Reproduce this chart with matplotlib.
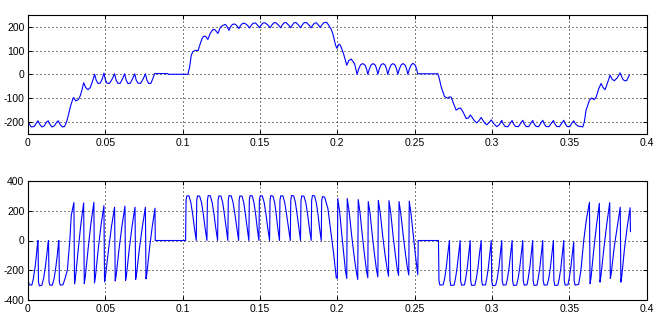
import numpy as np
import matplotlib
matplotlib.use('Agg')
from matplotlib import pyplot as plt

# ---- data (time in s, value) ----
# upper trace: current-like signal, one list per section
cur_start = [(0.0000, -200), (0.0010, -212), (0.0022, -222), (0.0040, -220), (0.0055, -205), (0.0065, -196),
             (0.0075, -210), (0.0090, -222), (0.0105, -218), (0.0120, -202), (0.0131, -196),
             (0.0141, -210), (0.0155, -222), (0.0170, -218), (0.0186, -202), (0.0196, -196),
             (0.0206, -210), (0.0222, -222), (0.0237, -220), (0.0250, -200), (0.0262, -170), (0.0275, -135),
             (0.0287, -110), (0.0295, -98), (0.0308, -112), (0.0326, -107), (0.0339, -89), (0.0351, -61),
             (0.0360, -36), (0.0373, -56), (0.0388, -65), (0.0403, -56), (0.0416, -32), (0.0431, 0)]
cur_zero1 = [(0.0441, -25), (0.0452, -38), (0.0466, -38), (0.0480, -20), (0.0491, 5),
             (0.0501, -25), (0.0512, -38), (0.0528, -38), (0.0546, -18), (0.0560, 2),
             (0.0570, -25), (0.0581, -38), (0.0596, -38), (0.0612, -18), (0.0625, 2),
             (0.0635, -25), (0.0646, -39), (0.0661, -38), (0.0677, -18), (0.0690, 2),
             (0.0700, -25), (0.0712, -38), (0.0728, -38), (0.0746, -18), (0.0759, 2),
             (0.0769, -25), (0.0780, -39), (0.0795, -38), (0.0809, -15), (0.0819, 3),
             (0.0904, 3), (0.0906, 0), (0.1034, 0)]
cur_up = [(0.1045, 31), (0.1056, 81), (0.1066, 95), (0.1082, 101), (0.1100, 100), (0.1112, 125),
          (0.1125, 150), (0.1135, 160), (0.1148, 160), (0.1163, 147), (0.1178, 172), (0.1196, 189),
          (0.1210, 187), (0.1228, 172), (0.1243, 197), (0.1260, 206), (0.1276, 210), (0.1288, 200),
          (0.1299, 185)]
cur_high = [(0.1309, 200), (0.1322, 210), (0.1336, 212), (0.1350, 205), (0.1364, 193),
            (0.1374, 205), (0.1387, 214), (0.1401, 215), (0.1418, 207), (0.1433, 195),
            (0.1443, 206), (0.1456, 215), (0.1471, 216), (0.1484, 207), (0.1497, 196),
            (0.1507, 207), (0.1519, 216), (0.1532, 217), (0.1550, 208), (0.1566, 196),
            (0.1576, 207), (0.1588, 216), (0.1602, 218), (0.1618, 208), (0.1633, 196),
            (0.1643, 207), (0.1656, 217), (0.1668, 218), (0.1684, 208), (0.1698, 196),
            (0.1708, 207), (0.1720, 217), (0.1733, 218), (0.1748, 208), (0.1762, 196),
            (0.1772, 207), (0.1785, 217), (0.1800, 218), (0.1816, 208), (0.1831, 196),
            (0.1841, 207), (0.1852, 215), (0.1864, 217), (0.1877, 208), (0.1889, 197),
            (0.1900, 208), (0.1912, 217), (0.1925, 219), (0.1935, 216)]
cur_down = [(0.1945, 205), (0.1960, 190), (0.1971, 171), (0.1988, 124), (0.1997, 109), (0.2010, 127),
            (0.2020, 122), (0.2040, 87), (0.2061, 38), (0.2074, 58), (0.2090, 64), (0.2111, 45),
            (0.2128, 0)]
cur_zero2 = [(0.2138, 22), (0.2150, 40), (0.2165, 45), (0.2180, 38), (0.2190, 20), (0.2197, 0),
             (0.2207, 22), (0.2219, 40), (0.2232, 45), (0.2246, 38), (0.2255, 20), (0.2262, 0),
             (0.2271, 22), (0.2283, 40), (0.2296, 45), (0.2310, 38), (0.2319, 20), (0.2326, 0),
             (0.2336, 22), (0.2348, 40), (0.2360, 45), (0.2374, 38), (0.2384, 20), (0.2391, 0),
             (0.2401, 22), (0.2413, 40), (0.2425, 45), (0.2439, 38), (0.2449, 20), (0.2456, 0),
             (0.2466, 22), (0.2478, 40), (0.2490, 46), (0.2504, 38), (0.2514, 18), (0.2520, 2),
             (0.2650, 2)]
cur_neg = [(0.2660, -20), (0.2671, -52), (0.2693, -94), (0.2714, -101), (0.2725, -95), (0.2736, -97),
           (0.2751, -123), (0.2768, -151), (0.2780, -146), (0.2794, -142), (0.2805, -150), (0.2816, -163),
           (0.2833, -187), (0.2848, -184), (0.2859, -172), (0.2870, -180), (0.2885, -195), (0.2901, -205),
           (0.2915, -196), (0.2930, -182), (0.2942, -195), (0.2955, -207), (0.2966, -213), (0.2982, -203),
           (0.2995, -192), (0.3010, -207), (0.3031, -221), (0.3048, -212), (0.3063, -194),
           (0.3073, -210), (0.3085, -220), (0.3103, -221), (0.3118, -206), (0.3130, -195),
           (0.3140, -210), (0.3152, -220), (0.3170, -221), (0.3186, -206), (0.3199, -194),
           (0.3209, -210), (0.3221, -220), (0.3237, -221), (0.3251, -206), (0.3263, -195),
           (0.3273, -210), (0.3285, -220), (0.3301, -221), (0.3316, -206), (0.3328, -194),
           (0.3338, -210), (0.3350, -220), (0.3368, -221), (0.3384, -206), (0.3397, -195),
           (0.3407, -210), (0.3419, -220), (0.3436, -221), (0.3451, -206), (0.3464, -194),
           (0.3474, -210), (0.3486, -220), (0.3502, -221), (0.3516, -206), (0.3528, -196)]
cur_end = [(0.3540, -210), (0.3555, -218), (0.3570, -220), (0.3587, -222), (0.3597, -200), (0.3608, -152),
           (0.3630, -109), (0.3645, -100), (0.3660, -107), (0.3673, -97), (0.3690, -61), (0.3705, -39),
           (0.3718, -56), (0.3731, -65), (0.3748, -34), (0.3763, -4), (0.3778, -22), (0.3791, -27),
           (0.3810, -15), (0.3828, 6), (0.3845, -20), (0.3856, -27), (0.3870, -27), (0.3888, -4)]

# lower trace: voltage-like signal
volt_a = [(0.0000, 0), (0.0003, -275), (0.0008, -298), (0.0025, -300), (0.0035, -255), (0.0046, -180), (0.0055, -95), (0.0063, -5),
          (0.0065, 0), (0.0068, -280), (0.0074, -305), (0.0090, -300), (0.0101, -255), (0.0112, -180), (0.0122, -95), (0.0131, -5),
          (0.0133, 0), (0.0136, -280), (0.0142, -300), (0.0158, -300), (0.0169, -255), (0.0180, -180), (0.0190, -95), (0.0198, -5),
          (0.0200, 0), (0.0203, -280), (0.0209, -300), (0.0226, -298), (0.0240, -255), (0.0255, -196), (0.0270, -7), (0.0280, 170)]
volt_b = [(0.0297, 255), (0.0301, -292), (0.0307, -250), (0.0325, -60), (0.0342, 110),
          (0.0360, 253), (0.0364, -290), (0.0370, -248), (0.0389, -55), (0.0407, 115),
          (0.0426, 257), (0.0430, -285), (0.0436, -245), (0.0454, -60), (0.0472, 100),
          (0.0491, 235), (0.0495, -278), (0.0501, -240), (0.0521, -60), (0.0540, 95),
          (0.0560, 224), (0.0564, -272), (0.0570, -235), (0.0589, -55), (0.0608, 100),
          (0.0627, 231), (0.0631, -268), (0.0637, -230), (0.0655, -55), (0.0673, 95),
          (0.0692, 224), (0.0696, -262), (0.0702, -225), (0.0721, -50), (0.0740, 95),
          (0.0759, 224), (0.0763, -258), (0.0769, -220), (0.0786, -50), (0.0803, 90),
          (0.0821, 217), (0.0823, 0), (0.1019, 0)]
volt_d = [(0.1022, 270), (0.1027, 300), (0.1041, 300), (0.1053, 255), (0.1065, 175), (0.1076, 85),
          (0.1088, 0), (0.1091, 270), (0.1096, 300), (0.1110, 298), (0.1122, 255), (0.1134, 175), (0.1145, 85),
          (0.1157, 0), (0.1160, 270), (0.1165, 302), (0.1179, 300), (0.1191, 255), (0.1203, 175), (0.1214, 85),
          (0.1226, 0), (0.1229, 270), (0.1234, 300), (0.1248, 298), (0.1259, 255), (0.1270, 175), (0.1281, 85),
          (0.1292, 0), (0.1295, 270), (0.1300, 302), (0.1314, 300), (0.1326, 255), (0.1338, 175), (0.1350, 85),
          (0.1362, 0), (0.1365, 270), (0.1370, 300), (0.1384, 298), (0.1395, 255), (0.1406, 175), (0.1417, 85),
          (0.1428, 0), (0.1431, 270), (0.1436, 302), (0.1450, 300), (0.1461, 255), (0.1472, 175), (0.1482, 85),
          (0.1493, 0), (0.1496, 270), (0.1501, 300), (0.1515, 300), (0.1527, 255), (0.1539, 175), (0.1550, 85),
          (0.1562, 0), (0.1565, 270), (0.1570, 302), (0.1584, 298), (0.1595, 255), (0.1605, 175), (0.1615, 85),
          (0.1626, 0), (0.1629, 270), (0.1634, 300), (0.1648, 300), (0.1660, 255), (0.1672, 175), (0.1684, 85),
          (0.1696, 0), (0.1699, 270), (0.1704, 302), (0.1718, 300), (0.1729, 255), (0.1740, 175), (0.1751, 85),
          (0.1762, 0), (0.1765, 270), (0.1770, 300), (0.1784, 298), (0.1796, 255), (0.1808, 175), (0.1819, 85),
          (0.1831, 0), (0.1834, 270), (0.1839, 302), (0.1853, 300), (0.1864, 255), (0.1875, 175), (0.1885, 85),
          (0.1896, 0), (0.1899, 270), (0.1904, 295), (0.1918, 292), (0.1939, 215), (0.1961, 37), (0.1977, -96),
          (0.1993, -251)]
volt_e = [(0.2000, -255), (0.2003, 282), (0.2015, 193), (0.2029, 37), (0.2042, -96), (0.2053, -207),
          (0.2061, -255), (0.2064, 282), (0.2077, 190), (0.2093, 30), (0.2108, -100), (0.2122, -205),
          (0.2132, -262), (0.2135, 275), (0.2147, 185), (0.2162, 30), (0.2176, -100), (0.2188, -200),
          (0.2197, -251), (0.2200, 262), (0.2212, 180), (0.2227, 25), (0.2241, -100), (0.2253, -195),
          (0.2262, -245), (0.2265, 270), (0.2278, 180), (0.2294, 25), (0.2309, -100), (0.2322, -190),
          (0.2331, -240), (0.2334, 268), (0.2346, 180), (0.2361, 25), (0.2375, -95), (0.2387, -190),
          (0.2396, -235), (0.2399, 262), (0.2411, 175), (0.2427, 25), (0.2441, -95), (0.2453, -185),
          (0.2462, -232), (0.2465, 265), (0.2477, 175), (0.2492, 25), (0.2505, -100), (0.2515, -190),
          (0.2520, -230), (0.2523, 0), (0.2654, 0)]
volt_g = [(0.2657, -270), (0.2663, -300), (0.2684, -298), (0.2694, -255), (0.2704, -185), (0.2714, -90),
          (0.2725, 0), (0.2728, -270), (0.2734, -302), (0.2755, -300), (0.2764, -255), (0.2774, -185), (0.2784, -90),
          (0.2794, 0), (0.2797, -270), (0.2803, -300), (0.2822, -298), (0.2830, -255), (0.2840, -185), (0.2850, -90),
          (0.2859, 0), (0.2862, -270), (0.2868, -302), (0.2889, -300), (0.2899, -255), (0.2909, -185), (0.2919, -90),
          (0.2930, 0), (0.2933, -270), (0.2939, -300), (0.2958, -298), (0.2966, -255), (0.2976, -185), (0.2986, -90),
          (0.2995, 0), (0.2998, -270), (0.3004, -305), (0.3024, -300), (0.3034, -255), (0.3044, -185), (0.3054, -90),
          (0.3063, 0), (0.3066, -270), (0.3072, -300), (0.3091, -298), (0.3100, -255), (0.3110, -185), (0.3120, -90),
          (0.3130, 0), (0.3133, -270), (0.3139, -302), (0.3159, -300), (0.3169, -255), (0.3179, -185), (0.3189, -90),
          (0.3199, 0), (0.3202, -270), (0.3208, -300), (0.3226, -298), (0.3234, -255), (0.3244, -185), (0.3254, -90),
          (0.3263, 0), (0.3266, -270), (0.3272, -302), (0.3291, -300), (0.3299, -255), (0.3309, -185), (0.3319, -90),
          (0.3328, 0), (0.3331, -270), (0.3337, -300), (0.3357, -298), (0.3367, -255), (0.3377, -185), (0.3387, -90),
          (0.3397, 0), (0.3400, -270), (0.3406, -302), (0.3426, -300), (0.3435, -255), (0.3445, -185), (0.3455, -90),
          (0.3464, 0), (0.3467, -270), (0.3473, -300), (0.3491, -298), (0.3499, -255), (0.3509, -185), (0.3519, -90),
          (0.3528, -10), (0.3531, -270), (0.3537, -300), (0.3560, -295), (0.3575, -200), (0.3593, 0), (0.3610, 140)]
volt_h = [(0.3630, 257), (0.3634, -290), (0.3640, -250), (0.3658, -60), (0.3676, 105),
          (0.3694, 250), (0.3698, -280), (0.3704, -240), (0.3723, -55), (0.3742, 110),
          (0.3761, 255), (0.3765, -255), (0.3771, -220), (0.3790, -45), (0.3810, 95),
          (0.3829, 224), (0.3833, -280), (0.3839, -240), (0.3856, -60), (0.3874, 90),
          (0.3893, 220), (0.3895, 60)]

xticks = [0, 0.05, 0.1, 0.15, 0.2, 0.25, 0.3, 0.35, 0.4]
xtick_labels = ['0', '0.05', '0.1', '0.15', '0.2', '0.25', '0.3', '0.35', '0.4']
yticks_top = [-200, -100, 0, 100, 200]
yticks_bot = [-400, -200, 0, 200, 400]

cur = np.array(cur_start + cur_zero1 + cur_up + cur_high + cur_down + cur_zero2 + cur_neg + cur_end)
volt = np.array(volt_a + volt_b + volt_d + volt_e + volt_g + volt_h)

plt.rcParams['font.family'] = ['Liberation Sans', 'DejaVu Sans']
plt.rcParams['font.size'] = 7.5

fig = plt.figure(figsize=(6.66, 3.25), dpi=100)
fig.patch.set_facecolor('white')
ax1 = fig.add_axes([0.042, 0.589, 0.929, 0.365])
ax2 = fig.add_axes([0.042, 0.077, 0.929, 0.366])

def matlab_axes(ax, yticks, ylim):
    ax.set_xlim(0, 0.4)
    ax.set_ylim(*ylim)
    ax.set_xticks(xticks)
    ax.set_xticklabels(xtick_labels)
    ax.set_yticks(yticks)
    ax.set_yticklabels([str(v) for v in yticks])
    ax.tick_params(direction='in', top=True, right=True, length=3, width=0.75,
                   colors='black', labelsize=7.5)
    ax.tick_params(axis='x', pad=3)
    ax.tick_params(axis='y', pad=2.5)
    ax.grid(True, color='black', linestyle=(0, (1, 3)), linewidth=0.72)
    ax.set_axisbelow(True)
    for s in ax.spines.values():
        s.set_linewidth(0.8)
        s.set_color('black')

# thin blue traces, MATLAB style
ax1.plot(cur[:, 0], cur[:, 1], color='#0000ff', linewidth=0.8)
matlab_axes(ax1, yticks_top, (-250, 250))

ax2.plot(volt[:, 0], volt[:, 1], color='#0000ff', linewidth=0.8)
matlab_axes(ax2, yticks_bot, (-400, 400))

fig.savefig('out.png', dpi=100)
